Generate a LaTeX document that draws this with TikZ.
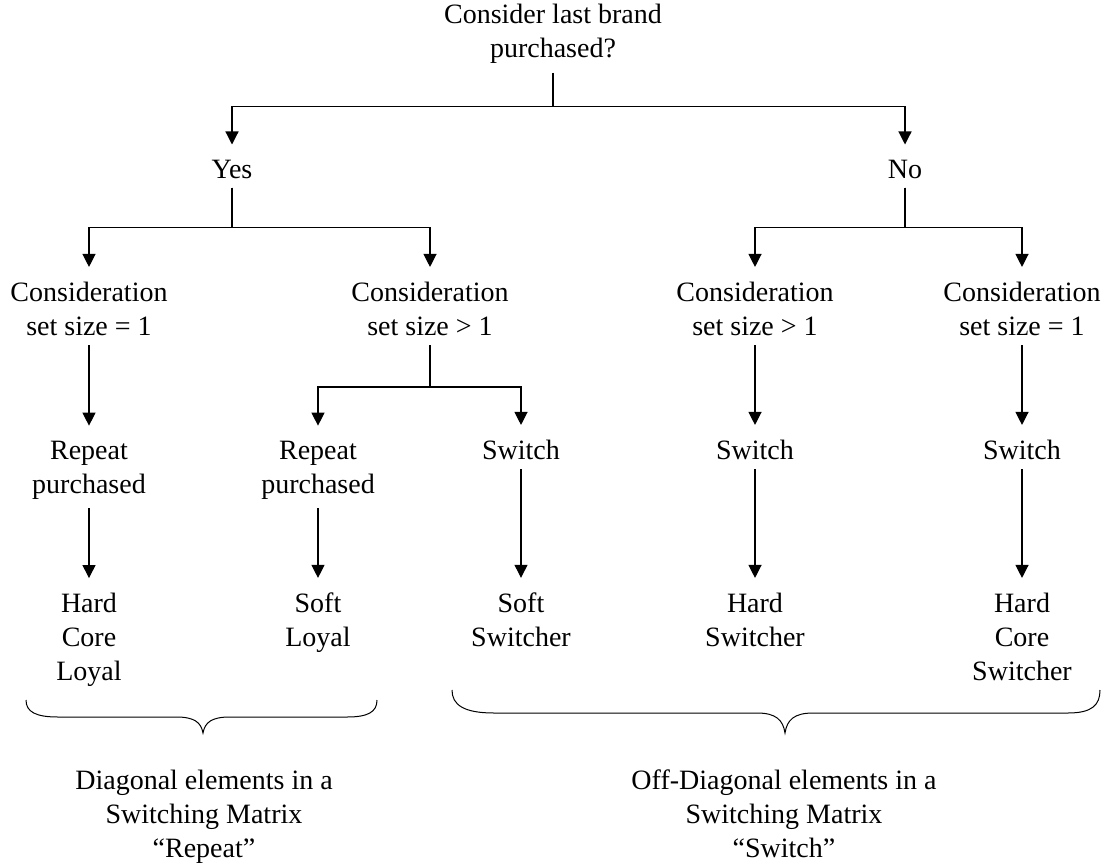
\documentclass[tikz,border=0pt]{standalone}
\usepackage{fontspec}
\setmainfont{Liberation Serif}
\usetikzlibrary{arrows.meta}

\begin{document}
\begin{tikzpicture} [x=1pt, y=1pt,
		% define styles
		textnodestyle/.style={
			% The shape:
			rectangle,
			% The space round the text:
			inner sep=9pt,
			% Alignment
			align=center,
			% Font
			font=\fontsize{28}{34}\selectfont
		},
		arrow/.style={
			-{Triangle[length=13pt, width=13pt]},
			% Thickness
			line width=1.2pt,
			% Color
			black,
			shorten >=6pt
		},
		bracestyle/.style={
			% Thickness
			line width=1pt,
			% Color
			black
		}]
		% end of style definition

		\useasboundingbox (0,0) rectangle (1102,-864);

		% draw nodes
		\node (iRoot) [textnodestyle] at (553,-34) {Consider last brand\\purchased?};
		\node (iYes) [textnodestyle] at (232,-169) {Yes};
		\node (iNo) [textnodestyle] at (905,-169) {No};

		\node (iConsA) [textnodestyle] at (89,-309) {Consideration\\set size = 1};
		\node (iConsB) [textnodestyle] at (430,-309) {Consideration\\set size > 1};
		\node (iConsC) [textnodestyle] at (755,-309) {Consideration\\set size > 1};
		\node (iConsD) [textnodestyle] at (1022,-309) {Consideration\\set size = 1};

		\node (iRepA) [textnodestyle] at (89,-470) {Repeat\\purchased};
		\node (iRepB) [textnodestyle] at (318,-470) {Repeat\\purchased};
		\node (iSwB) [textnodestyle] at (521,-450) {Switch};
		\node (iSwC) [textnodestyle] at (755,-450) {Switch};
		\node (iSwD) [textnodestyle] at (1022,-450) {Switch};

		\node (iHardLoyal) [textnodestyle] at (89,-640) {Hard\\Core\\Loyal};
		\node (iSoftLoyal) [textnodestyle] at (318,-623) {Soft\\Loyal};
		\node (iSoftSw) [textnodestyle] at (521,-620) {Soft\\Switcher};
		\node (iHardSw) [textnodestyle] at (755,-620) {Hard\\Switcher};
		\node (iHardCoreSw) [textnodestyle] at (1022,-637) {Hard\\Core\\Switcher};

		\node (iDiag) [textnodestyle] at (204,-817) {Diagonal elements in a\\Switching Matrix\\“Repeat”};
		\node (iOffDiag) [textnodestyle] at (784,-814) {Off-Diagonal elements in a\\Switching Matrix\\“Switch”};

		% connect nodes
		\draw [arrow] (iRoot.south) -- ++(0,-34) -| (iYes.north);
		\draw [arrow] (iRoot.south) -- ++(0,-34) -| (iNo.north);

		\draw [arrow] (iYes.south) -- ++(0,-40) -| (iConsA.north);
		\draw [arrow] (iYes.south) -- ++(0,-40) -| (iConsB.north);
		\draw [arrow] (iNo.south) -- ++(0,-40) -| (iConsC.north);
		\draw [arrow] (iNo.south) -- ++(0,-40) -| (iConsD.north);

		\draw [arrow] (iConsA) -- (iRepA);
		\draw [arrow] (iConsB.south) -- ++(0,-42) -| (iRepB.north);
		\draw [arrow] (iConsB.south) -- ++(0,-42) -| (iSwB.north);
		\draw [arrow] (iConsC) -- (iSwC);
		\draw [arrow] (iConsD) -- (iSwD);

		\draw [arrow] (iRepA) -- (iHardLoyal);
		\draw [arrow] (iRepB) -- (iSoftLoyal);
		\draw [arrow] (iSwB) -- (iSoftSw);
		\draw [arrow] (iSwC) -- (iHardSw);
		\draw [arrow] (iSwD) -- (iHardCoreSw);

		% braces
		\draw [bracestyle] (26,-700) .. controls (26,-712) and (36,-717) .. (58,-717) -- (176,-717)
			.. controls (194,-717) and (201,-722) .. (203,-733)
			.. controls (205,-722) and (212,-717) .. (230,-717) -- (347,-717)
			.. controls (368,-717) and (377,-712) .. (377,-700);
		\draw [bracestyle] (452,-690) .. controls (452,-705) and (464,-713) .. (494,-713) -- (757,-713)
			.. controls (776,-713) and (783,-720) .. (785,-733)
			.. controls (787,-720) and (794,-713) .. (813,-713) -- (1068,-713)
			.. controls (1092,-713) and (1100,-705) .. (1100,-690);
	\end{tikzpicture}
\end{document}
